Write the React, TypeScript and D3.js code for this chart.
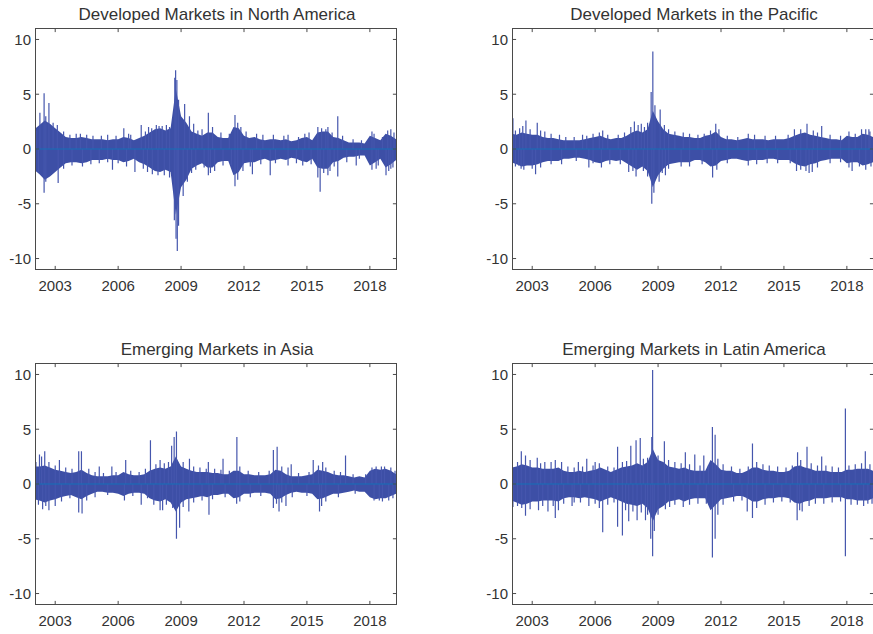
import React from "react";
import * as d3 from "d3";

// Quarterly grid of the envelope readings (decimal years 2002.00 … 2019.25)
const quarters: number[] = d3.range(2002, 2019.3, 0.25);

const xTicks = [2003, 2006, 2009, 2012, 2015, 2018];
const yTicks = [-10, -5, 0, 5, 10];

const titles = [
  "Developed Markets in North America",
  "Developed Markets in the Pacific",
  "Emerging Markets in Asia",
  "Emerging Markets in Latin America",
];

// ---------- Developed Markets in North America ----------
const naUpper = [
  1.8, 2.2, 2.6, 2.3, 1.9, 1.5, 1.1, 1.0, 1.0, 1.1, 1.0, 0.9, 0.9, 0.9, 0.8, 0.9,
  0.9, 1.1, 1.0, 0.8, 1.0, 1.2, 1.5, 1.8, 1.9, 1.7, 1.9, 5.5, 3.0, 2.4, 1.6, 1.4,
  1.2, 1.5, 1.5, 1.1, 1.0, 1.0, 2.0, 1.9, 1.2, 1.0, 1.1, 0.9, 0.8, 0.9, 0.9, 0.8,
  0.9, 0.7, 0.8, 1.0, 1.1, 0.8, 1.5, 1.6, 1.6, 1.1, 1.0, 0.8, 0.6, 0.6, 0.6, 0.5,
  1.2, 1.0, 0.8, 1.4, 1.2, 0.9,
];
const naLower = [
  -1.9, -2.3, -2.8, -2.5, -2.1, -1.7, -1.3, -1.2, -1.2, -1.3, -1.2, -1.0, -1.0, -1.0, -0.9, -1.0,
  -1.0, -1.2, -1.1, -0.9, -1.2, -1.4, -1.7, -2.0, -2.1, -1.9, -2.1, -6.0, -3.5, -2.8, -1.8, -1.5,
  -1.3, -1.7, -1.7, -1.2, -1.1, -1.1, -2.4, -2.1, -1.3, -1.2, -1.2, -1.0, -0.9, -1.1, -1.0, -0.9,
  -1.0, -0.8, -0.9, -1.1, -1.2, -0.9, -1.7, -1.8, -1.8, -1.2, -1.1, -0.8, -0.7, -0.7, -0.6, -0.6,
  -1.5, -1.2, -0.9, -1.7, -1.4, -1.0,
];
const naSpikeDates = [
  2002.1, 2002.27, 2002.47, 2002.55, 2002.7, 2002.9, 2003.1, 2004.2, 2006.27, 2007.1, 2007.82,
  2008.1, 2008.7, 2008.74, 2008.8, 2008.88, 2009.17, 2009.4, 2010.3, 2011.57, 2011.85, 2015.52,
  2016.0, 2016.47, 2019.0,
  2002.2, 2002.47, 2002.55, 2003.14, 2005.73, 2006.8, 2007.63, 2008.68, 2008.76, 2008.82,
  2008.88, 2009.1, 2010.3, 2011.57, 2012.4, 2013.25, 2015.52, 2015.63, 2016.0, 2016.47,
  2017.35, 2018.3, 2018.77, 2019.0,
];
const naSpikeValues = [
  1.7, 3.3, 5.1, 3.0, 4.2, 2.4, 2.2, 1.4, 1.9, 2.2, 2.2,
  2.1, 6.5, 7.2, 6.3, 4.5, 4.1, 3.0, 3.3, 3.1, 2.0, 2.0,
  2.0, 3.0, 1.8,
  -2.1, -4.0, -3.0, -3.1, -1.9, -2.1, -2.3, -6.5, -8.2, -9.3,
  -7.0, -4.3, -2.4, -3.4, -2.3, -2.4, -2.6, -3.9, -2.4, -2.5,
  -1.5, -1.8, -2.4, -1.8,
];
const naMinorDates = [
  2003.4, 2003.7, 2004.0, 2004.5, 2004.8, 2005.2, 2005.5, 2005.9, 2006.5, 2006.6, 2007.3,
  2007.45, 2007.6, 2007.95, 2008.3, 2008.45, 2009.6, 2009.8, 2010.0, 2010.5, 2010.9, 2011.3,
  2011.7, 2012.1, 2012.6, 2012.9, 2013.4, 2013.9, 2014.1, 2014.6, 2014.9, 2015.1, 2015.7,
  2015.9, 2016.2, 2016.7, 2017.2, 2017.6, 2018.1, 2018.2, 2018.6, 2018.85, 2019.15,
  2003.4, 2003.8, 2004.3, 2004.7, 2005.1, 2005.5, 2006.0, 2006.4, 2007.2, 2007.4, 2007.9,
  2008.2, 2008.45, 2009.3, 2009.5, 2009.7, 2010.1, 2010.4, 2010.6, 2011.0, 2011.4, 2011.7,
  2011.95, 2012.3, 2012.8, 2013.5, 2014.1, 2014.5, 2014.8, 2015.2, 2015.8, 2016.1, 2016.3,
  2016.9, 2017.5, 2018.1, 2018.4, 2018.9, 2019.1,
];
const naMinorValues = [
  1.6, 1.3, 1.4, 1.3, 1.2, 1.2, 1.3, 1.2, 1.4, 1.3, 1.6,
  2.0, 1.9, 2.1, 2.2, 2.0, 2.3, 1.7, 1.8, 2.0, 1.5, 1.4,
  2.4, 1.6, 1.4, 1.3, 1.3, 1.2, 1.3, 1.1, 1.4, 1.5, 1.9,
  1.8, 1.5, 1.2, 0.9, 0.8, 1.6, 1.4, 1.1, 1.7, 1.5,
  -1.8, -1.5, -1.6, -1.4, -1.3, -1.2, -1.3, -1.6, -1.8, -2.1, -2.4,
  -2.4, -2.6, -3.0, -2.2, -1.9, -1.7, -2.2, -2.0, -1.5, -1.5, -2.8,
  -2.0, -1.6, -1.4, -1.3, -1.5, -1.3, -1.5, -1.4, -2.2, -2.0, -1.6,
  -1.2, -0.9, -1.9, -1.5, -2.0, -1.7,
];

// ---------- Developed Markets in the Pacific ----------
const paUpper = [
  1.4, 1.3, 1.5, 1.4, 1.3, 1.3, 1.1, 1.0, 1.0, 0.9, 0.8, 0.8, 0.8, 0.8, 0.9, 1.0,
  1.1, 1.2, 1.0, 0.9, 1.0, 1.0, 1.2, 1.5, 1.7, 1.5, 1.8, 3.5, 2.5, 1.8, 1.4, 1.3,
  1.2, 1.1, 1.1, 1.0, 1.0, 1.2, 1.3, 1.6, 1.1, 0.9, 0.9, 0.8, 0.9, 1.0, 0.9, 0.9,
  0.9, 0.8, 0.9, 0.9, 0.9, 1.0, 1.2, 1.4, 1.5, 1.3, 1.2, 1.1, 1.0, 0.9, 0.9, 0.8,
  1.2, 1.1, 1.1, 1.4, 1.3, 1.1,
];
const paLower = [
  -1.2, -1.4, -1.6, -1.5, -1.5, -1.4, -1.2, -1.1, -1.1, -1.1, -0.9, -0.9, -0.8, -0.8, -0.9, -1.0,
  -1.2, -1.3, -1.1, -1.0, -1.1, -1.0, -1.3, -1.6, -1.9, -1.6, -2.0, -3.5, -2.4, -1.8, -1.4, -1.3,
  -1.2, -1.2, -1.2, -1.0, -1.0, -1.2, -1.6, -1.5, -1.1, -1.0, -0.9, -0.9, -1.0, -1.1, -1.0, -1.0,
  -1.0, -0.9, -0.9, -1.0, -1.0, -1.0, -1.3, -1.5, -1.6, -1.4, -1.3, -1.1, -1.0, -0.9, -0.9, -0.9,
  -1.3, -1.2, -1.2, -1.5, -1.4, -1.2,
];
const paSpikeDates = [
  2002.08, 2002.4, 2002.7, 2003.24, 2003.6, 2005.4, 2006.36, 2007.87, 2008.2, 2008.5, 2008.67,
  2008.75, 2008.85, 2009.1, 2011.75, 2016.1, 2016.8, 2018.9, 2019.05,
  2002.35, 2002.47, 2003.16, 2005.7, 2007.6, 2007.95, 2008.5, 2008.7, 2008.8, 2009.05, 2009.35,
  2011.6, 2015.6, 2016.2, 2016.35, 2018.25,
];
const paSpikeValues = [
  2.8, 1.9, 2.6, 2.4, 1.6, 1.3, 1.7, 2.5, 2.3, 2.4, 5.2,
  8.9, 4.0, 3.6, 2.3, 2.3, 2.1, 1.8, 1.8,
  -1.5, -1.8, -2.3, -1.7, -2.1, -2.5, -2.5, -5.0, -4.0, -3.0, -2.4,
  -2.6, -2.0, -2.2, -2.1, -2.0,
];
const paMinorDates = [
  2002.2, 2002.55, 2002.9, 2003.4, 2003.9, 2004.3, 2004.6, 2005.0, 2005.6, 2005.9, 2006.2,
  2006.6, 2007.1, 2007.4, 2007.7, 2008.05, 2008.35, 2009.3, 2009.5, 2009.8, 2010.2, 2010.5,
  2010.9, 2011.2, 2011.5, 2011.9, 2012.3, 2012.8, 2013.3, 2013.6, 2014.1, 2014.6, 2015.2,
  2015.5, 2015.8, 2016.4, 2016.6, 2017.2, 2017.7, 2018.1, 2018.4, 2018.7, 2019.1,
  2002.2, 2002.6, 2003.0, 2003.4, 2003.9, 2004.4, 2005.1, 2005.9, 2006.3, 2006.7, 2007.2,
  2007.8, 2008.3, 2009.2, 2009.5, 2010.1, 2010.5, 2011.1, 2011.8, 2012.3, 2013.3, 2013.7,
  2014.2, 2014.7, 2015.3, 2015.8, 2016.05, 2016.6, 2017.2, 2017.7, 2018.1, 2018.6, 2018.9,
  2019.15,
];
const paMinorValues = [
  1.7, 2.1, 1.8, 1.7, 1.4, 1.3, 1.1, 1.1, 1.2, 1.4, 1.5,
  1.3, 1.3, 1.5, 2.0, 2.2, 2.0, 2.2, 1.8, 1.6, 1.5, 1.4,
  1.3, 1.4, 1.7, 1.8, 1.2, 1.1, 1.4, 1.3, 1.2, 1.2, 1.3,
  1.8, 1.8, 1.7, 1.5, 1.3, 1.2, 1.6, 1.4, 1.8, 1.6,
  -1.6, -1.9, -1.8, -1.7, -1.4, -1.4, -1.1, -1.3, -1.7, -1.4, -1.4,
  -2.0, -2.0, -2.2, -1.8, -1.6, -1.6, -1.4, -1.9, -1.3, -1.5, -1.4,
  -1.3, -1.3, -1.3, -1.9, -2.0, -1.7, -1.3, -1.2, -1.7, -1.6, -1.9,
  -1.6,
];

// ---------- Emerging Markets in Asia ----------
const asUpper = [
  1.6, 1.6, 1.7, 1.5, 1.3, 1.2, 1.1, 1.0, 1.1, 1.3, 1.0, 0.8, 0.7, 0.7, 0.7, 0.8,
  0.8, 1.1, 0.9, 0.8, 0.8, 0.9, 1.2, 1.4, 1.5, 1.4, 1.6, 2.5, 1.6, 1.4, 1.2, 1.1,
  1.1, 1.1, 1.0, 1.0, 0.9, 0.9, 1.2, 1.2, 0.9, 0.9, 0.8, 0.8, 0.8, 0.9, 1.3, 1.2,
  0.9, 0.7, 0.7, 0.7, 0.8, 0.9, 1.3, 1.2, 1.1, 0.9, 0.8, 0.8, 0.7, 0.6, 0.7, 0.6,
  1.2, 1.4, 1.3, 1.4, 1.2, 0.9,
];
const asLower = [
  -1.4, -1.5, -1.7, -1.5, -1.4, -1.2, -1.1, -1.0, -1.2, -1.4, -1.1, -0.9, -0.7, -0.7, -0.8, -0.8,
  -0.9, -1.1, -0.9, -0.8, -0.8, -0.9, -1.3, -1.5, -1.6, -1.4, -1.7, -2.5, -1.7, -1.4, -1.3, -1.2,
  -1.1, -1.2, -1.0, -1.0, -0.9, -0.9, -1.3, -1.2, -0.9, -0.9, -0.8, -0.8, -0.8, -0.9, -1.4, -1.3,
  -1.0, -0.8, -0.7, -0.8, -0.8, -0.9, -1.4, -1.3, -1.1, -0.9, -0.9, -0.8, -0.7, -0.6, -0.7, -0.7,
  -1.2, -1.4, -1.3, -1.3, -1.1, -0.9,
];
const asSpikeDates = [
  2002.08, 2002.25, 2002.35, 2002.5, 2002.7, 2003.2, 2004.12, 2004.25, 2005.1, 2005.7, 2006.36,
  2007.54, 2008.0, 2008.55, 2008.67, 2008.78, 2009.4, 2010.3, 2011.0, 2011.66, 2013.4, 2013.58,
  2014.25, 2015.3, 2015.75, 2016.84, 2018.3, 2018.55,
  2002.4, 2002.7, 2003.0, 2004.12, 2004.28, 2007.1, 2008.0, 2008.12, 2008.78, 2008.93, 2009.37,
  2010.33, 2011.65, 2013.4, 2013.67, 2014.0, 2015.6, 2018.45,
];
const asSpikeValues = [
  2.0, 2.7, 2.5, 3.0, 2.0, 2.2, 3.0, 3.0, 1.6, 1.6, 2.2,
  4.0, 2.2, 3.5, 4.3, 4.8, 2.3, 2.0, 2.3, 4.3, 3.1, 3.4,
  1.8, 2.2, 2.0, 2.6, 1.6, 1.6,
  -2.3, -2.4, -2.0, -2.6, -2.7, -1.9, -2.4, -2.4, -5.0, -4.0, -2.5,
  -2.8, -1.8, -2.2, -2.5, -2.0, -2.5, -1.5,
];
const asMinorDates = [
  2003.0, 2003.5, 2003.8, 2004.6, 2004.9, 2005.3, 2005.9, 2006.6, 2007.0, 2007.3, 2007.8,
  2008.2, 2008.4, 2009.1, 2009.6, 2009.9, 2010.2, 2010.6, 2010.9, 2011.3, 2011.8, 2012.2,
  2012.7, 2013.2, 2013.8, 2014.1, 2014.6, 2015.1, 2015.55, 2015.9, 2016.3, 2016.6, 2017.2,
  2017.8, 2018.1, 2018.7, 2019.0, 2019.2,
  2002.2, 2002.55, 2003.3, 2003.7, 2004.5, 2004.9, 2005.5, 2006.3, 2006.7, 2007.4, 2007.7,
  2008.3, 2008.6, 2009.1, 2009.6, 2010.0, 2010.5, 2011.1, 2011.8, 2012.3, 2012.8, 2013.55,
  2013.8, 2014.3, 2015.0, 2015.7, 2015.9, 2016.5, 2017.3, 2018.2, 2018.6, 2018.9, 2019.1,
];
const asMinorValues = [
  1.7, 1.5, 1.4, 1.4, 1.1, 1.0, 1.1, 1.2, 1.1, 1.4, 1.8,
  1.9, 2.0, 2.0, 1.6, 1.5, 1.4, 1.4, 1.3, 1.2, 1.6, 1.2,
  1.1, 1.2, 1.6, 1.5, 1.0, 1.1, 1.7, 1.5, 1.2, 1.1, 0.9,
  0.9, 1.5, 1.6, 1.5, 1.2,
  -1.9, -2.0, -1.6, -1.3, -1.5, -1.2, -1.0, -1.5, -1.1, -1.3, -1.9,
  -1.9, -2.2, -2.1, -1.7, -1.5, -1.4, -1.2, -1.6, -1.2, -1.1, -1.8,
  -1.7, -1.2, -1.1, -2.0, -1.6, -1.2, -0.9, -1.5, -1.6, -1.5, -1.3,
];

// ---------- Emerging Markets in Latin America ----------
const laUpper = [
  1.5, 1.6, 1.8, 1.7, 1.5, 1.5, 1.4, 1.4, 1.4, 1.5, 1.2, 1.1, 1.1, 1.2, 1.1, 1.2,
  1.3, 1.5, 1.3, 1.1, 1.3, 1.5, 1.6, 1.7, 1.9, 1.7, 2.0, 3.2, 2.2, 2.0, 1.6, 1.5,
  1.4, 1.5, 1.3, 1.2, 1.2, 1.2, 2.2, 1.8, 1.3, 1.2, 1.2, 1.0, 1.0, 1.2, 1.5, 1.5,
  1.3, 1.2, 1.2, 1.1, 1.1, 1.2, 1.6, 1.7, 1.5, 1.4, 1.2, 1.2, 1.2, 1.1, 1.1, 1.1,
  1.3, 1.3, 1.4, 1.4, 1.4, 1.2,
];
const laLower = [
  -1.5, -1.7, -1.9, -1.8, -1.6, -1.6, -1.5, -1.5, -1.5, -1.6, -1.3, -1.2, -1.2, -1.3, -1.2, -1.3,
  -1.4, -1.6, -1.4, -1.2, -1.4, -1.6, -1.8, -1.9, -2.0, -1.8, -2.2, -3.4, -2.3, -2.0, -1.6, -1.5,
  -1.4, -1.6, -1.4, -1.3, -1.3, -1.3, -2.4, -1.9, -1.4, -1.3, -1.2, -1.1, -1.1, -1.3, -1.6, -1.6,
  -1.4, -1.3, -1.3, -1.2, -1.2, -1.3, -1.7, -1.8, -1.6, -1.5, -1.3, -1.3, -1.3, -1.2, -1.2, -1.2,
  -1.4, -1.4, -1.5, -1.5, -1.5, -1.3,
];
const laSpikeDates = [
  2002.05, 2002.48, 2002.68, 2003.24, 2003.6, 2004.1, 2005.2, 2005.6, 2006.0, 2007.07, 2007.7,
  2007.95, 2008.15, 2008.5, 2008.7, 2008.74, 2009.3, 2010.3, 2010.75, 2011.18, 2011.59, 2011.72,
  2013.5, 2015.65, 2016.1, 2016.8, 2017.93, 2018.88,
  2002.08, 2002.68, 2003.3, 2003.75, 2004.1, 2004.25, 2004.9, 2005.7, 2006.36, 2007.07, 2007.3,
  2007.6, 2008.0, 2008.4, 2008.65, 2008.74, 2008.82, 2009.35, 2011.59, 2011.72, 2011.85, 2013.25,
  2013.5, 2015.63, 2015.87, 2017.93, 2019.0,
];
const laSpikeValues = [
  1.8, 3.0, 2.6, 2.4, 2.0, 2.2, 2.0, 2.3, 2.0, 3.4, 3.5,
  4.0, 4.2, 2.4, 4.3, 10.4, 3.9, 2.9, 2.7, 2.6, 5.2, 4.5,
  3.7, 2.9, 3.4, 2.5, 6.9, 3.0,
  -2.1, -2.9, -2.4, -2.5, -3.1, -2.4, -2.0, -2.0, -4.4, -3.9, -4.7,
  -3.4, -3.3, -3.3, -5.0, -6.6, -4.3, -2.3, -6.7, -5.0, -2.8, -2.5,
  -3.1, -3.3, -2.5, -6.6, -1.8,
];
const laMinorDates = [
  2002.3, 2002.9, 2003.4, 2003.9, 2004.4, 2004.7, 2005.0, 2005.4, 2005.9, 2006.2, 2006.6,
  2006.9, 2007.3, 2007.5, 2008.3, 2009.0, 2009.5, 2009.8, 2010.1, 2010.5, 2011.0, 2011.4,
  2011.85, 2012.1, 2012.5, 2012.9, 2013.3, 2013.7, 2014.0, 2014.3, 2014.7, 2015.1, 2015.4,
  2015.8, 2016.3, 2016.6, 2017.0, 2017.3, 2017.6, 2018.1, 2018.4, 2018.7, 2019.1,
  2002.3, 2002.5, 2002.9, 2003.5, 2004.0, 2004.5, 2005.0, 2005.3, 2006.0, 2006.2, 2006.6,
  2006.9, 2007.45, 2007.8, 2008.2, 2008.5, 2009.0, 2009.55, 2009.8, 2010.2, 2010.5, 2010.9,
  2011.3, 2012.1, 2012.6, 2013.0, 2013.7, 2014.1, 2014.5, 2014.9, 2015.3, 2015.75, 2016.2,
  2016.5, 2016.9, 2017.3, 2017.7, 2018.2, 2018.5, 2018.8, 2019.2,
];
const laMinorValues = [
  2.0, 2.2, 1.9, 2.0, 2.0, 1.6, 1.5, 1.6, 1.7, 1.9, 1.6,
  1.5, 2.0, 2.1, 2.3, 2.6, 2.2, 2.0, 1.9, 1.8, 1.7, 1.7,
  2.3, 1.8, 1.6, 1.4, 1.6, 2.0, 1.8, 1.7, 1.6, 1.5, 1.7,
  2.2, 1.9, 1.7, 1.7, 1.6, 1.5, 1.7, 1.8, 1.9, 1.8,
  -2.0, -2.2, -2.3, -2.0, -2.0, -1.8, -1.7, -1.7, -1.8, -2.2, -1.9,
  -1.7, -2.4, -2.5, -2.6, -2.8, -2.8, -2.1, -1.9, -2.1, -1.9, -1.8,
  -1.8, -1.9, -1.6, -1.5, -2.2, -1.9, -1.7, -1.6, -1.7, -2.4, -2.0,
  -1.8, -1.8, -1.7, -1.6, -1.9, -1.9, -2.0, -1.8,
];

const uppers = [naUpper, paUpper, asUpper, laUpper];
const lowers = [naLower, paLower, asLower, laLower];
const spikeDates = [naSpikeDates, paSpikeDates, asSpikeDates, laSpikeDates];
const spikeValues = [naSpikeValues, paSpikeValues, asSpikeValues, laSpikeValues];
const minorDates = [naMinorDates, paMinorDates, asMinorDates, laMinorDates];
const minorValues = [naMinorValues, paMinorValues, asMinorValues, laMinorValues];

const FONT = "'Liberation Sans', Arial, Helvetica, sans-serif";
const DATA_COLOR = "#3d4fa6";
const SPIKE_COLOR = "#4556ad";
const ZERO_COLOR = "#1470b8";
const AXIS_COLOR = "#4a4a4a";
const TEXT_COLOR = "#333333";

const W = 361;
const H = 241;
const lefts = [35.5, 512.5];
const tops = [28.5, 363.5];
const TICK = 3.6;

function Panel({ idx }: { idx: number }) {
  const left = lefts[idx % 2];
  const top = tops[Math.floor(idx / 2)];
  const x = d3.scaleLinear().domain([2002.06, 2019.27]).range([left, left + W]);
  const y = d3.scaleLinear().domain([-11, 11]).range([top + H, top]);
  const up = uppers[idx];
  const lo = lowers[idx];
  const band = quarters.map((t, i) => ({ t, hi: up[i], lo: lo[i] }));
  const area = d3
    .area<{ t: number; hi: number; lo: number }>()
    .x((d) => x(d.t))
    .y0((d) => y(d.lo))
    .y1((d) => y(d.hi))
    .curve(d3.curveLinear);
  const clipId = `clip-${idx}`;
  const spikes = [
    ...spikeDates[idx].map((t, i) => ({ t, v: spikeValues[idx][i] })),
    ...minorDates[idx].map((t, i) => ({ t, v: minorValues[idx][i] })),
  ];
  return (
    <g>
      <defs>
        <clipPath id={clipId}>
          <rect x={left} y={top} width={W} height={H} />
        </clipPath>
      </defs>
      <text
        x={left + W / 2 + 1}
        y={top - 9}
        textAnchor="middle"
        fontFamily={FONT}
        fontSize={17}
        fill={TEXT_COLOR}
      >
        {titles[idx]}
      </text>
      <g clipPath={`url(#${clipId})`}>
        <path d={area(band) || ""} fill={DATA_COLOR} />
        {spikes.map((s, i) => (
          <line
            key={i}
            x1={x(s.t)}
            x2={x(s.t)}
            y1={y(0)}
            y2={y(s.v)}
            stroke={SPIKE_COLOR}
            strokeWidth={1.2}
          />
        ))}
        <line x1={left} x2={left + W} y1={y(0)} y2={y(0)} stroke={ZERO_COLOR} strokeWidth={1.2} />
      </g>
      <rect x={left} y={top} width={W} height={H} fill="none" stroke={AXIS_COLOR} strokeWidth={1} />
      {yTicks.map((v) => (
        <g key={`y${v}`}>
          <line x1={left} x2={left + TICK} y1={y(v)} y2={y(v)} stroke={AXIS_COLOR} />
          <line x1={left + W} x2={left + W - TICK} y1={y(v)} y2={y(v)} stroke={AXIS_COLOR} />
          <text
            x={left - 4.5}
            y={y(v)}
            dy="0.36em"
            textAnchor="end"
            fontFamily={FONT}
            fontSize={15}
            fill={TEXT_COLOR}
          >
            {v}
          </text>
        </g>
      ))}
      {xTicks.map((v) => (
        <g key={`x${v}`}>
          <line x1={x(v)} x2={x(v)} y1={top + H} y2={top + H - TICK} stroke={AXIS_COLOR} />
          <line x1={x(v)} x2={x(v)} y1={top} y2={top + TICK} stroke={AXIS_COLOR} />
          <text
            x={x(v)}
            y={top + H + 21.5}
            textAnchor="middle"
            fontFamily={FONT}
            fontSize={15}
            fill={TEXT_COLOR}
          >
            {v}
          </text>
        </g>
      ))}
    </g>
  );
}

export default function App() {
  return (
    <svg
      width={873}
      height={634}
      style={{ position: "absolute", left: 0, top: 0, background: "#fff" }}
    >
      <rect width={873} height={634} fill="#fff" />
      {[0, 1, 2, 3].map((i) => (
        <Panel key={i} idx={i} />
      ))}
    </svg>
  );
}
